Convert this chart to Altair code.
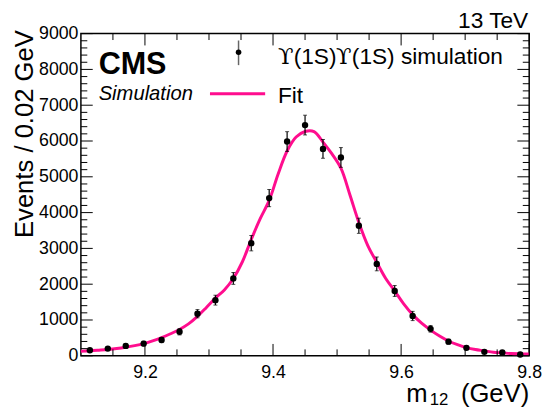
import altair as alt
import pandas as pd

W, H = 455, 327

# Data
pts_m = [9.114, 9.142, 9.170, 9.198, 9.226, 9.254, 9.282, 9.310, 9.338, 9.366,
         9.394, 9.422, 9.450, 9.478, 9.506, 9.534, 9.562, 9.590, 9.618, 9.646,
         9.674, 9.702, 9.730, 9.758, 9.786]
pts_n = [155, 201, 276, 340, 441, 671, 1176, 1554, 2161, 3146,
         4405, 5985, 6445, 5780, 5540, 3632, 2567, 1811, 1112, 753,
         395, 221, 110, 91, 36]
pts_err = [43, 49, 57, 64, 72, 89, 115, 138, 166, 215,
           240, 276, 276, 262, 276, 212, 193, 152, 129, 92,
           69, 51, 36, 33, 21]

fit_m = [9.100, 9.114, 9.128, 9.142, 9.156, 9.170, 9.184, 9.198, 9.212, 9.226,
         9.240, 9.254, 9.268, 9.282, 9.296, 9.310, 9.324, 9.338, 9.352, 9.366,
         9.380, 9.394, 9.408, 9.422, 9.436, 9.450, 9.464, 9.478, 9.492,
         9.506, 9.520, 9.534, 9.548, 9.562, 9.576, 9.590, 9.604, 9.618, 9.632,
         9.646, 9.660, 9.674, 9.688, 9.702, 9.716, 9.730, 9.744, 9.758, 9.772,
         9.786, 9.800]
fit_n = [127, 138, 155, 174, 201, 238, 284, 340, 414, 505,
         615, 735, 890, 1100, 1350, 1610, 1840, 2160, 2620, 3250,
         3830, 4340, 5080, 5720, 6110, 6265, 6262, 5970, 5640,
         5240, 4500, 3726, 3080, 2610, 2160, 1810, 1450, 1150, 910,
         718, 552, 414, 312, 229, 174, 138, 99, 83, 63,
         55, 50]

x_labels = [9.2, 9.4, 9.6, 9.8]
x_major = [9.2, 9.4, 9.6, 9.8]
x_minor = [9.15, 9.25, 9.3, 9.35, 9.45, 9.5, 9.55, 9.65, 9.7, 9.75]
y_labels = [0, 1000, 2000, 3000, 4000, 5000, 6000, 7000, 8000, 9000]
y_minor = [v for v in range(200, 9000, 200) if v % 1000 != 0]

FONT = "Liberation Sans"
PINK = "#ff0d8e"

pts = pd.DataFrame({"m": pts_m, "n": pts_n, "e": pts_err})
pts["lo"] = pts["n"] - pts["e"]
pts["hi"] = pts["n"] + pts["e"]
fit = pd.DataFrame({"m": fit_m, "n": fit_n})

xs = alt.Scale(domain=[9.1, 9.8], nice=False, zero=False)
ys = alt.Scale(domain=[0, 9000], nice=False, zero=True)

x_axis = alt.Axis(values=x_labels, format=".1f", labelFontSize=18,
                  labelFont=FONT, labelColor="black", labelPadding=8,
                  ticks=False, domain=False, grid=False,
                  labelFlush=False, labelOverlap=False)
y_axis = alt.Axis(values=y_labels, format="d", labelFontSize=18,
                  labelFont=FONT, labelColor="black", labelPadding=3,
                  ticks=False, domain=False, grid=False,
                  labelFlush=False, labelOverlap=False,
                  titleFont=FONT, titleFontSize=26, titleColor="black",
                  titleFontWeight="normal", titleAngle=270,
                  titleAlign="right", titleBaseline="alphabetic",
                  titleX=-49, titleY=-4)

x_enc = alt.X("m:Q", scale=xs, title=None, axis=x_axis)
y_enc = alt.Y("n:Q", scale=ys, title="Events / 0.02 GeV", axis=y_axis)

curve = alt.Chart(fit).mark_line(color=PINK, strokeWidth=3, interpolate="catmull-rom").encode(
    x=x_enc, y=y_enc)

bars = alt.Chart(pts).mark_rule(color="black", strokeWidth=1.2).encode(
    x=x_enc, y=alt.Y("lo:Q", scale=ys, title="Events / 0.02 GeV", axis=y_axis), y2="hi:Q")
cap_lo = alt.Chart(pts).mark_tick(color="black", orient="horizontal", size=4, thickness=1).encode(
    x=x_enc, y=alt.Y("lo:Q", scale=ys, title="Events / 0.02 GeV", axis=y_axis))
cap_hi = alt.Chart(pts).mark_tick(color="black", orient="horizontal", size=4, thickness=1).encode(
    x=x_enc, y=alt.Y("hi:Q", scale=ys, title="Events / 0.02 GeV", axis=y_axis))
dots = alt.Chart(pts).mark_circle(color="black", size=42, opacity=1).encode(
    x=x_enc, y=y_enc)

# inward ticks (ROOT style) on all four sides
def xticks(vals, length):
    d = pd.DataFrame({"m": vals})
    b = alt.Chart(d).mark_rule(color="black", strokeWidth=1).encode(
        x=x_enc, y=alt.value(H), y2=alt.value(H - length))
    t = alt.Chart(d).mark_rule(color="black", strokeWidth=1).encode(
        x=x_enc, y=alt.value(0), y2=alt.value(length))
    return [b, t]

def yticks(vals, length):
    d = pd.DataFrame({"n": vals})
    l = alt.Chart(d).mark_rule(color="black", strokeWidth=1).encode(
        y=y_enc, x=alt.value(0), x2=alt.value(length))
    r = alt.Chart(d).mark_rule(color="black", strokeWidth=1).encode(
        y=y_enc, x=alt.value(W), x2=alt.value(W - length))
    return [l, r]

one = pd.DataFrame({"k": [0]})

def txt(s, x, y, size, align="left", baseline="alphabetic", weight="normal",
        style="normal", font=FONT, color="black"):
    return alt.Chart(one).mark_text(
        text=s, align=align, baseline=baseline, fontSize=size, font=font,
        fontWeight=weight, fontStyle=style, color=color).encode(
        x=alt.value(x), y=alt.value(y))

texts = [
    txt("13 TeV", 454, -6, 23, align="right"),
    txt("CMS", 18, 41, 31, weight="bold"),
    txt("Simulation", 18, 67, 20.5, style="italic"),
    # x-axis title m_12 (GeV)
    txt("(GeV)", 455, 374, 26, align="right"),
    txt("12", 373, 377, 17, align="right"),
    txt("m", 352, 374, 26, align="right"),
    # legend entry 1
    txt("\u03d2", 200, 30.5, 23, font="DejaVu Serif"),
    txt("(1S)", 216, 30.5, 23),
    txt("\u03d2", 259, 30.5, 23, font="DejaVu Serif"),
    txt("(1S) simulation", 275, 30.5, 23),
    # legend entry 2
    txt("Fit", 200, 70.5, 23),
]

leg_bar = alt.Chart(one).mark_rule(color="#666666", strokeWidth=1.5).encode(
    x=alt.value(160), y=alt.value(7), y2=alt.value(32))
leg_dot = alt.Chart(one).mark_circle(color="black", size=32, opacity=1).encode(
    x=alt.value(160), y=alt.value(19))
leg_line = alt.Chart(one).mark_rule(color=PINK, strokeWidth=3).encode(
    x=alt.value(131), x2=alt.value(187), y=alt.value(61))

layers = [curve, bars, cap_lo, cap_hi, dots]
layers += xticks(x_major, 12) + xticks(x_minor, 6.5)
layers += yticks(y_labels, 12) + yticks(y_minor, 6.5)
layers += [leg_bar, leg_dot, leg_line] + texts

chart = alt.layer(*layers).properties(
    width=W, height=H,
    autosize=alt.AutoSizeParams(type="none"),
    padding={"left": 74, "top": 23, "right": 13, "bottom": 50},
    background="white",
).configure_view(stroke="black", strokeWidth=1.5).configure_axis(
    labelOverlap=False, labelFlush=False)

chart.save("out.html", embed_options={"renderer": "svg", "actions": False})
